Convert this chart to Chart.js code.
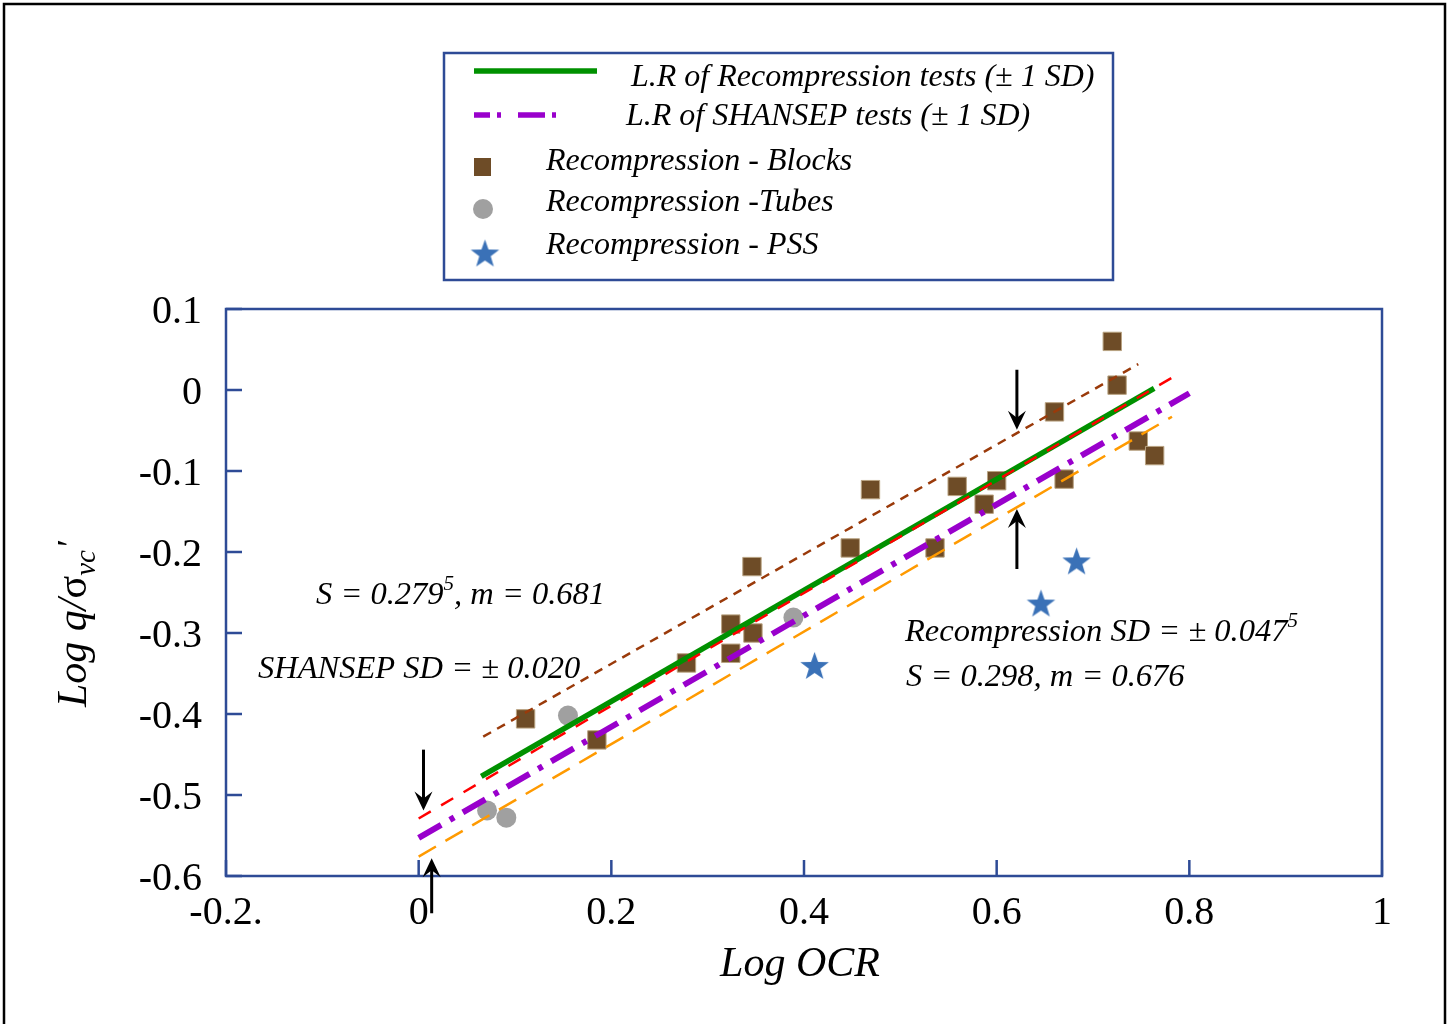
<!DOCTYPE html>
<html><head><meta charset="utf-8">
<script src="https://cdn.jsdelivr.net/npm/chart.js@4/dist/chart.umd.min.js"></script>
<style>html,body{margin:0;padding:0;background:#fff;}canvas{display:block;}</style>
</head><body>
<canvas id="c" width="1450" height="1024"></canvas>
<script>
// ---------- DATA ----------
const xTickLabels = ['-0.2.', '0', '0.2', '0.4', '0.6', '0.8', '1'];
const yTickLabels = ['-0.6', '-0.5', '-0.4', '-0.3', '-0.2', '-0.1', '0', '0.1'];

const blocksX = [0.111, 0.185, 0.278, 0.324, 0.324, 0.347, 0.346, 0.448, 0.469, 0.536, 0.559, 0.587, 0.600, 0.660, 0.670, 0.720, 0.725, 0.747, 0.764];
const blocksY = [-0.406, -0.432, -0.337, -0.289, -0.325, -0.300, -0.218, -0.195, -0.123, -0.195, -0.119, -0.141, -0.112, -0.027, -0.110, 0.060, 0.006, -0.063, -0.081];

const tubesX = [0.071, 0.091, 0.155, 0.389];
const tubesY = [-0.519, -0.528, -0.402, -0.281];

const pssX = [0.411, 0.646, 0.683];
const pssY = [-0.340, -0.263, -0.211];

const recompFitX = [0.065, 0.7635];
const recompFitY = [-0.477, 0.002];
const recompUpperX = [0.067, 0.747];
const recompUpperY = [-0.428, 0.032];
const shansepFitX = [0.0, 0.800];
const shansepFitY = [-0.553, -0.004];
const shansepUpperX = [0.0, 0.786];
const shansepUpperY = [-0.529, 0.018];
const shansepLowerX = [0.0, 0.782];
const shansepLowerY = [-0.576, -0.033];

// arrows: x, start y, tip y (data units)
const arrowX = [0.621, 0.621, 0.005, 0.0135];
const arrowFromY = [0.025, -0.221, -0.444, -0.646];
const arrowToY = [-0.049, -0.147, -0.519, -0.578];

const legendLabels = ['L.R of Recompression tests (\u00B1 1 SD)', 'L.R of SHANSEP tests (\u00B1 1 SD)', 'Recompression - Blocks', 'Recompression -Tubes', 'Recompression - PSS'];

// ---------- HELPERS ----------
const pts = (xs, ys) => xs.map((x, i) => ({x: x, y: ys[i]}));
const SERIF = '"Liberation Serif", "Times New Roman", serif';
const AXIS_BLUE = '#2E4B96';
const BROWN = '#6E4C27';
const GREY = '#A0A0A0';
const STAR_BLUE = '#3A71B7';

function starPath(ctx, cx, cy, R, r) {
  ctx.beginPath();
  for (let i = 0; i < 10; i++) {
    const rad = i % 2 === 0 ? R : r;
    const a = -Math.PI / 2 + i * Math.PI / 5;
    const px = cx + rad * Math.cos(a), py = cy + rad * Math.sin(a);
    if (i === 0) ctx.moveTo(px, py); else ctx.lineTo(px, py);
  }
  ctx.closePath();
}
function makeStar(size) {
  const cv = document.createElement('canvas');
  cv.width = size; cv.height = size;
  const g = cv.getContext('2d');
  const R = size / 2 - 0.5;
  g.fillStyle = STAR_BLUE;
  starPath(g, size / 2, size / 2 + 0.0955 * R, R, R * 0.40);
  g.fill();
  return cv;
}
const starImg = makeStar(31);

function lineDS(label, xs, ys, color, width, dash) {
  return {type: 'scatter', label: label, data: pts(xs, ys), showLine: true, borderColor: color, backgroundColor: color,
    borderWidth: width, borderDash: dash, pointRadius: 0, pointHoverRadius: 0, fill: false, tension: 0};
}

const datasets = [
  lineDS('Recompression +1 SD', recompUpperX, recompUpperY, '#9A3A0A', 2.5, [9, 7]),
  lineDS('SHANSEP +1 SD', shansepUpperX, shansepUpperY, '#FF0000', 2.5, [14, 12]),
  lineDS('SHANSEP -1 SD', shansepLowerX, shansepLowerY, '#FF9A00', 2.5, [20, 11]),
  lineDS(legendLabels[1], shansepFitX, shansepFitY, '#9900CC', 6, [26, 10, 5, 10]),
  lineDS(legendLabels[0], recompFitX, recompFitY, '#009100', 5.5, []),
  {type: 'scatter', label: legendLabels[2], data: pts(blocksX, blocksY), pointStyle: 'rect', pointRadius: 13, backgroundColor: BROWN, borderColor: '#B9A382', borderWidth: 1, showLine: false},
  {type: 'scatter', label: legendLabels[3], data: pts(tubesX, tubesY), pointStyle: 'circle', pointRadius: 10, backgroundColor: GREY, borderColor: GREY, borderWidth: 0, showLine: false},
  {type: 'scatter', label: legendLabels[4], data: pts(pssX, pssY), pointStyle: starImg, pointRadius: 15, backgroundColor: STAR_BLUE, borderColor: STAR_BLUE, showLine: false}
];

// ---------- PLUGINS ----------
const framePlugin = {
  id: 'frame',
  beforeDraw(chart) {
    const ctx = chart.ctx;
    ctx.save();
    ctx.fillStyle = '#fff';
    ctx.fillRect(0, 0, chart.width, chart.height);
    ctx.strokeStyle = '#000';
    ctx.lineWidth = 2.5;
    ctx.strokeRect(4, 4, 1441, 1030);
    ctx.restore();
  },
  afterDraw(chart) {
    const ctx = chart.ctx, a = chart.chartArea;
    const xs = chart.scales.x, ys = chart.scales.y;
    ctx.save();
    // plot box
    ctx.strokeStyle = AXIS_BLUE; ctx.lineWidth = 2.5;
    ctx.strokeRect(a.left, a.top, a.right - a.left, a.bottom - a.top);
    // inward ticks
    ctx.beginPath();
    xs.ticks.forEach(t => { const px = xs.getPixelForValue(t.value); ctx.moveTo(px, a.bottom); ctx.lineTo(px, a.bottom - 16); });
    ys.ticks.forEach(t => { const py = ys.getPixelForValue(t.value); ctx.moveTo(a.left, py); ctx.lineTo(a.left + 16, py); });
    ctx.stroke();

    // arrows
    ctx.strokeStyle = '#000'; ctx.fillStyle = '#000'; ctx.lineWidth = 3;
    arrowX.forEach((xv, i) => {
      const px = xs.getPixelForValue(xv);
      const y0 = ys.getPixelForValue(arrowFromY[i]);
      const y1 = ys.getPixelForValue(arrowToY[i]);
      const dir = y1 > y0 ? 1 : -1;
      ctx.beginPath(); ctx.moveTo(px, y0); ctx.lineTo(px, y1 - dir * 8); ctx.stroke();
      ctx.beginPath();
      ctx.moveTo(px, y1);
      ctx.lineTo(px - 9, y1 - dir * 19);
      ctx.lineTo(px, y1 - dir * 12);
      ctx.lineTo(px + 9, y1 - dir * 19);
      ctx.closePath(); ctx.fill();
    });

    // annotation texts
    ctx.fillStyle = '#000';
    ctx.textBaseline = 'middle'; ctx.textAlign = 'left';
    const F = 'italic 32.5px ' + SERIF, FS = 'italic 21px ' + SERIF;
    function seq(x, y, parts) {
      parts.forEach(p => {
        ctx.font = p.sup ? FS : F;
        ctx.fillText(p.t, x, p.sup ? y - 11 : y);
        x += ctx.measureText(p.t).width;
      });
    }
    seq(316, 595, [{t: 'S = 0.279'}, {t: '5', sup: true}, {t: ', m = 0.681'}]);
    seq(258, 669, [{t: 'SHANSEP SD = \u00B1 0.020'}]);
    seq(905, 632, [{t: 'Recompression SD = \u00B1 0.047'}, {t: '5', sup: true}]);
    seq(906, 677, [{t: 'S = 0.298, m = 0.676'}]);

    // x title
    ctx.font = 'italic 42px ' + SERIF;
    ctx.textAlign = 'center'; ctx.textBaseline = 'alphabetic';
    ctx.fillText('Log OCR', (a.left + a.right) / 2 - 4, 976);

    // y title (rotated)
    ctx.translate(86, 707);
    ctx.rotate(-Math.PI / 2);
    ctx.textAlign = 'left';
    let tx = 0;
    ctx.font = 'italic 42px ' + SERIF; ctx.fillText('Log q/', tx, 0); tx += ctx.measureText('Log q/').width;
    ctx.font = '42px ' + SERIF; ctx.fillText('\u03C3', tx, 0); tx += ctx.measureText('\u03C3').width;
    ctx.font = 'italic 29px ' + SERIF; ctx.fillText('vc', tx, 9); tx += ctx.measureText('vc').width;
    ctx.font = 'italic 36px ' + SERIF; ctx.fillText('\u2032', tx + 1, -4);
    ctx.restore();

    // legend
    drawLegend(ctx);
  }
};

function drawLegend(ctx) {
  ctx.save();
  ctx.strokeStyle = AXIS_BLUE; ctx.lineWidth = 2.5;
  ctx.strokeRect(444, 53, 669, 227);
  ctx.lineCap = 'butt';
  // green
  ctx.strokeStyle = '#009100'; ctx.lineWidth = 5.5; ctx.setLineDash([]);
  ctx.beginPath(); ctx.moveTo(474, 71); ctx.lineTo(597, 71); ctx.stroke();
  // purple dash-dot
  ctx.strokeStyle = '#9900CC'; ctx.lineWidth = 5.5; ctx.setLineDash([16, 7, 4, 17, 27, 7, 4, 100]);
  ctx.beginPath(); ctx.moveTo(474, 115); ctx.lineTo(580, 115); ctx.stroke();
  ctx.setLineDash([]);
  // square
  ctx.fillStyle = BROWN; ctx.fillRect(474, 158, 17, 18);
  // circle
  ctx.fillStyle = GREY; ctx.beginPath(); ctx.arc(483, 209, 10, 0, Math.PI * 2); ctx.fill();
  // star
  ctx.drawImage(starImg, 485 - 15.5, 253 - 15.5);
  // texts
  ctx.fillStyle = '#000'; ctx.font = 'italic 32px ' + SERIF; ctx.textBaseline = 'middle'; ctx.textAlign = 'left';
  ctx.fillText(legendLabels[0], 631, 78);
  ctx.fillText(legendLabels[1], 626, 117);
  ctx.fillText(legendLabels[2], 546, 162);
  ctx.fillText(legendLabels[3], 546, 203);
  ctx.fillText(legendLabels[4], 546, 246);
  ctx.restore();
}

// ---------- CHART ----------
new Chart(document.getElementById('c'), {
  type: 'scatter',
  data: {datasets: datasets},
  options: {
    responsive: false,
    animation: false,
    devicePixelRatio: 1,
    layout: {padding: {left: 126, top: 309, right: 68, bottom: 68}},
    plugins: {legend: {display: false}, tooltip: {enabled: false}, title: {display: false}},
    scales: {
      x: {
        type: 'linear', min: -0.2, max: 1,
        grid: {display: false, drawTicks: false},
        border: {display: false},
        ticks: {stepSize: 0.2, padding: 13, color: '#000', font: {family: SERIF, size: 40},
          callback: (v, i) => xTickLabels[i]},
        afterFit: s => { s.height = 80; }
      },
      y: {
        type: 'linear', min: -0.6, max: 0.1,
        grid: {display: false, drawTicks: false},
        border: {display: false},
        ticks: {stepSize: 0.1, padding: 24, labelOffset: 3, color: '#000', font: {family: SERIF, size: 40},
          callback: (v, i) => yTickLabels[i]},
        afterFit: s => { s.width = 100; }
      }
    }
  },
  plugins: [framePlugin]
});
</script>
</body></html>
